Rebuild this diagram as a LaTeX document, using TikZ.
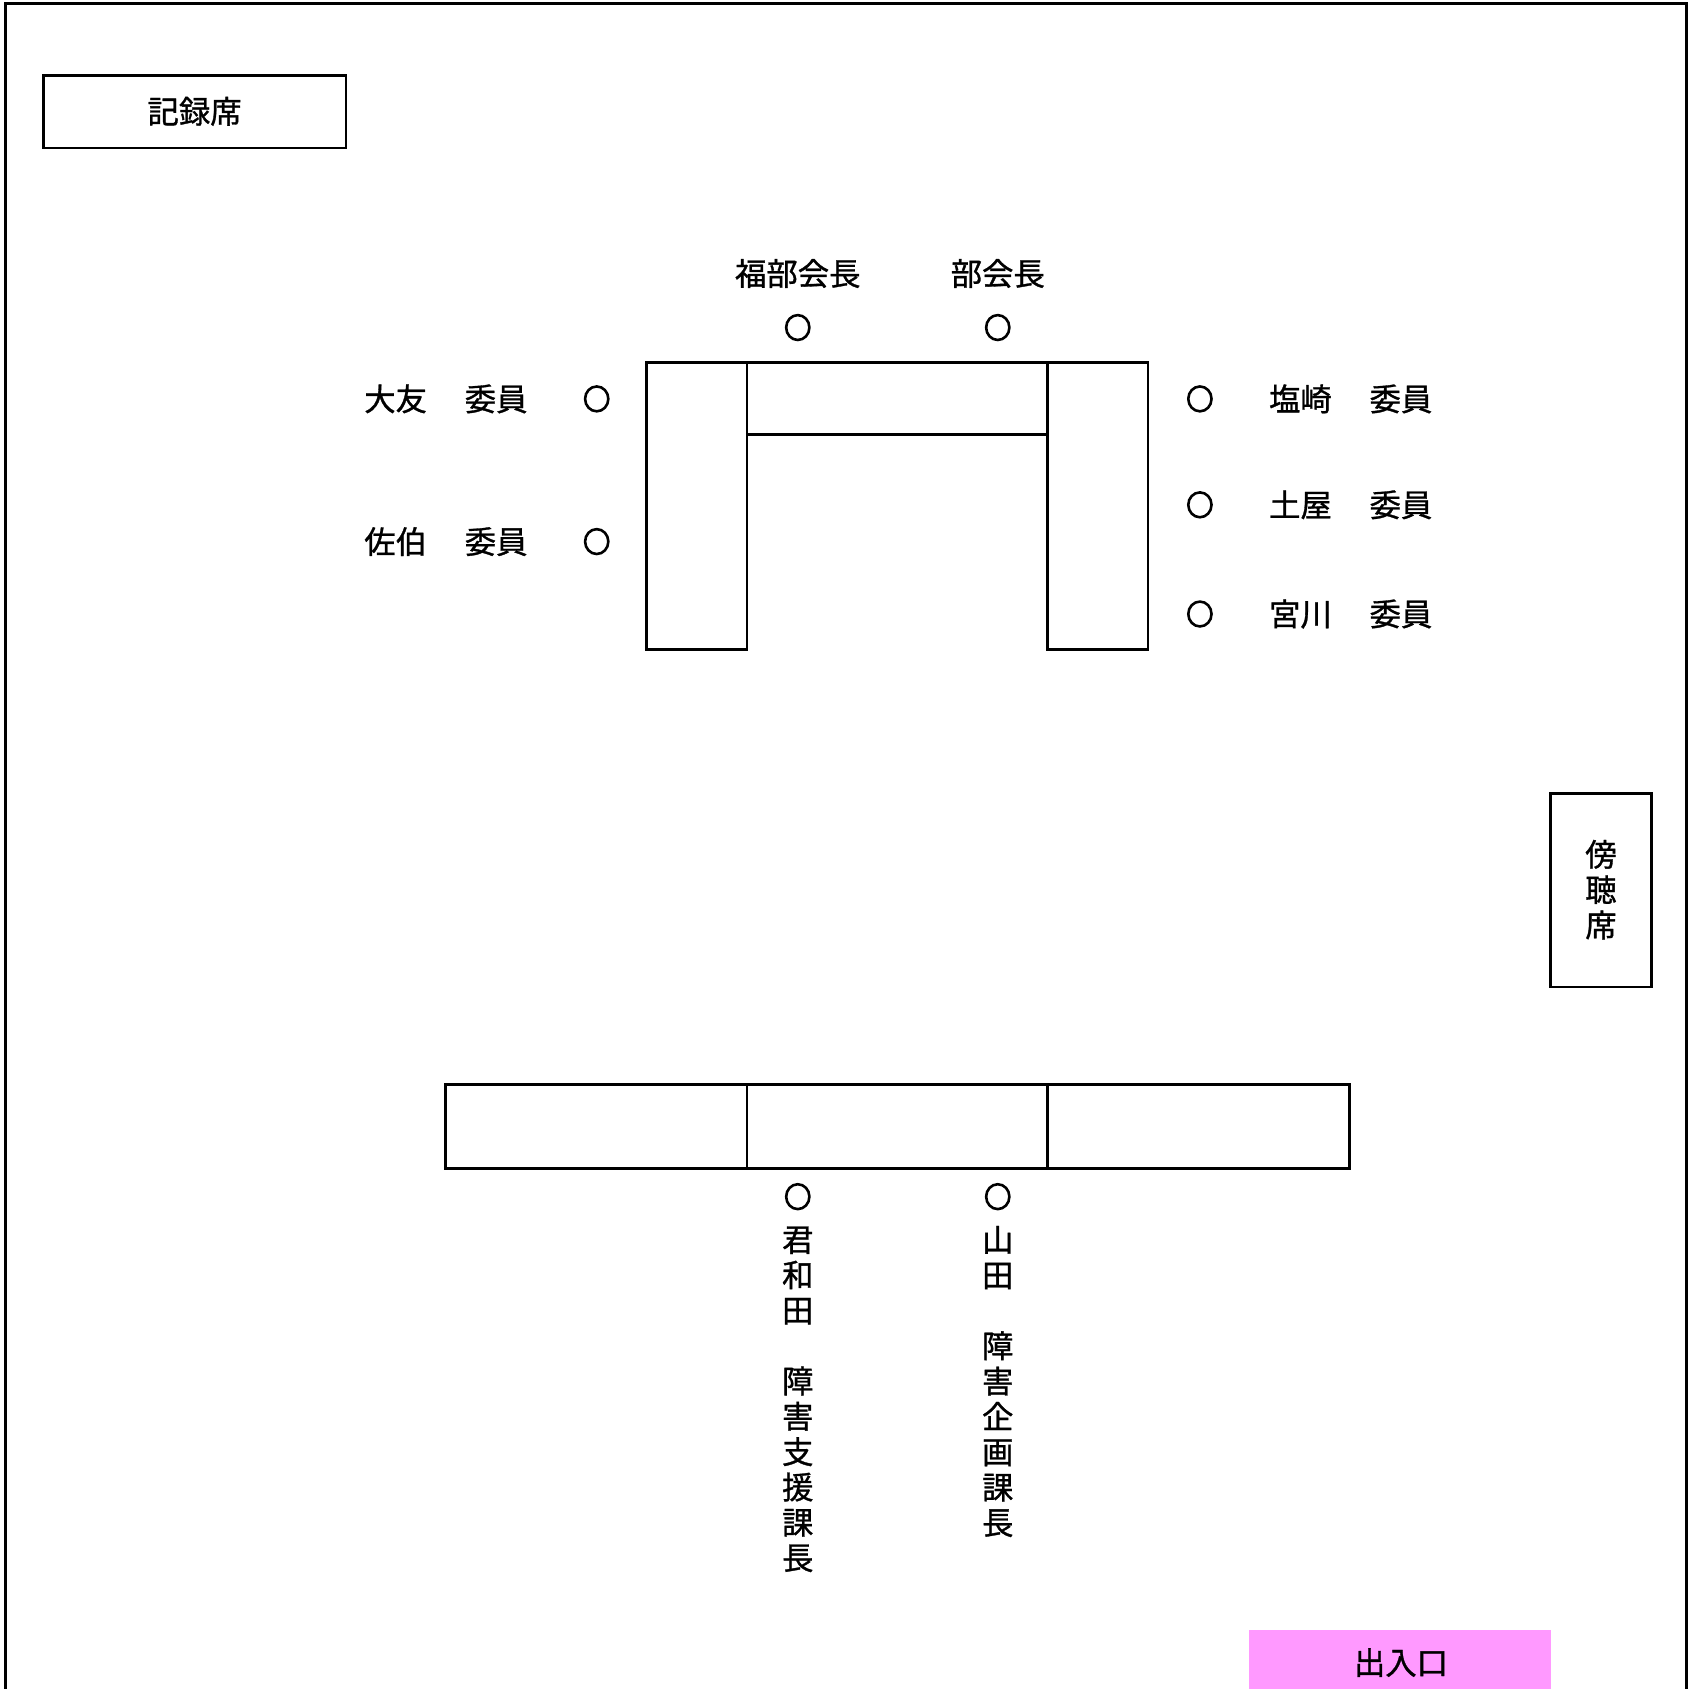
\documentclass[tikz,border=0pt]{standalone}
\usepackage{fontspec}
\usetikzlibrary{shapes.geometric}
\setmainfont{Noto Sans CJK JP}[FakeBold=1]
\definecolor{doorpink}{RGB}{255,153,255}
\newcommand{\namegap}{\hspace{35pt}}
\begin{document}
\begin{tikzpicture}[x=1pt,y=-1pt,
  wall/.style={line width=2.6pt},
  desk/.style={draw,line width=2.6pt,inner sep=0pt},
  lbl/.style={inner sep=0pt,font=\fontsize{29}{32.7}\selectfont},
  vlbl/.style={inner sep=0pt,align=center,font=\fontsize{29}{32.7}\selectfont},
  seat/.style={draw,ellipse,line width=2.4pt,inner sep=0pt,minimum width=21.5pt,minimum height=23pt}]
\useasboundingbox (0,0) rectangle (1568,1562);
% room walls
\draw[wall] (5,1562) -- (5,3) -- (1560,3) -- (1560,1562);
% record seat
\draw[desk] (40,70) rectangle (320,137);
\node[lbl] (rec) at (180,103) {記録席};
% top table
\draw[desk] (598,335) rectangle (691,601);
\draw[desk] (691,335) rectangle (969,402);
\draw[desk] (969,335) rectangle (1062,601);
% top labels
\node[lbl] (fuku) at (738,253) {福部会長};
\node[lbl] (bu) at (923,253) {部会長};
\node[seat] (s1) at (738,303) {};
\node[seat] (s2) at (923,303) {};
% left members
\node[lbl] (ootomo) at (412.5,369) {大友\namegap 委員};
\node[lbl] (saeki) at (412.5,501) {佐伯\namegap 委員};
\node[seat] (s3) at (552,369) {};
\node[seat] (s4) at (552,501) {};
% right members
\node[seat] (s5) at (1110,369) {};
\node[seat] (s6) at (1110,467) {};
\node[seat] (s7) at (1110,568) {};
\node[lbl] (shiozaki) at (1249.5,369) {塩崎\namegap 委員};
\node[lbl] (tsuchiya) at (1249.5,467) {土屋\namegap 委員};
\node[lbl] (miyagawa) at (1249.5,568) {宮川\namegap 委員};
% audience
\draw[desk] (1434,734) rectangle (1528,913);
\node[vlbl] (bocho) at (1481,823) {傍\\聴\\席};
% bottom table
\draw[desk] (412,1003) rectangle (691,1081);
\draw[desk] (691,1003) rectangle (969,1081);
\draw[desk] (969,1003) rectangle (1248,1081);
\node[seat] (s8) at (738,1107) {};
\node[seat] (s9) at (923,1107) {};
\node[vlbl] (kimiwada) at (738,1294.5) {君\\和\\田\\　\\障\\害\\支\\援\\課\\長};
\node[vlbl] (yamada) at (923,1278) {山\\田\\　\\障\\害\\企\\画\\課\\長};
% entrance
\fill[doorpink] (1155,1508) rectangle (1435,1562);
\node[lbl] (door) at (1296,1538) {出入口};
\end{tikzpicture}
\end{document}
